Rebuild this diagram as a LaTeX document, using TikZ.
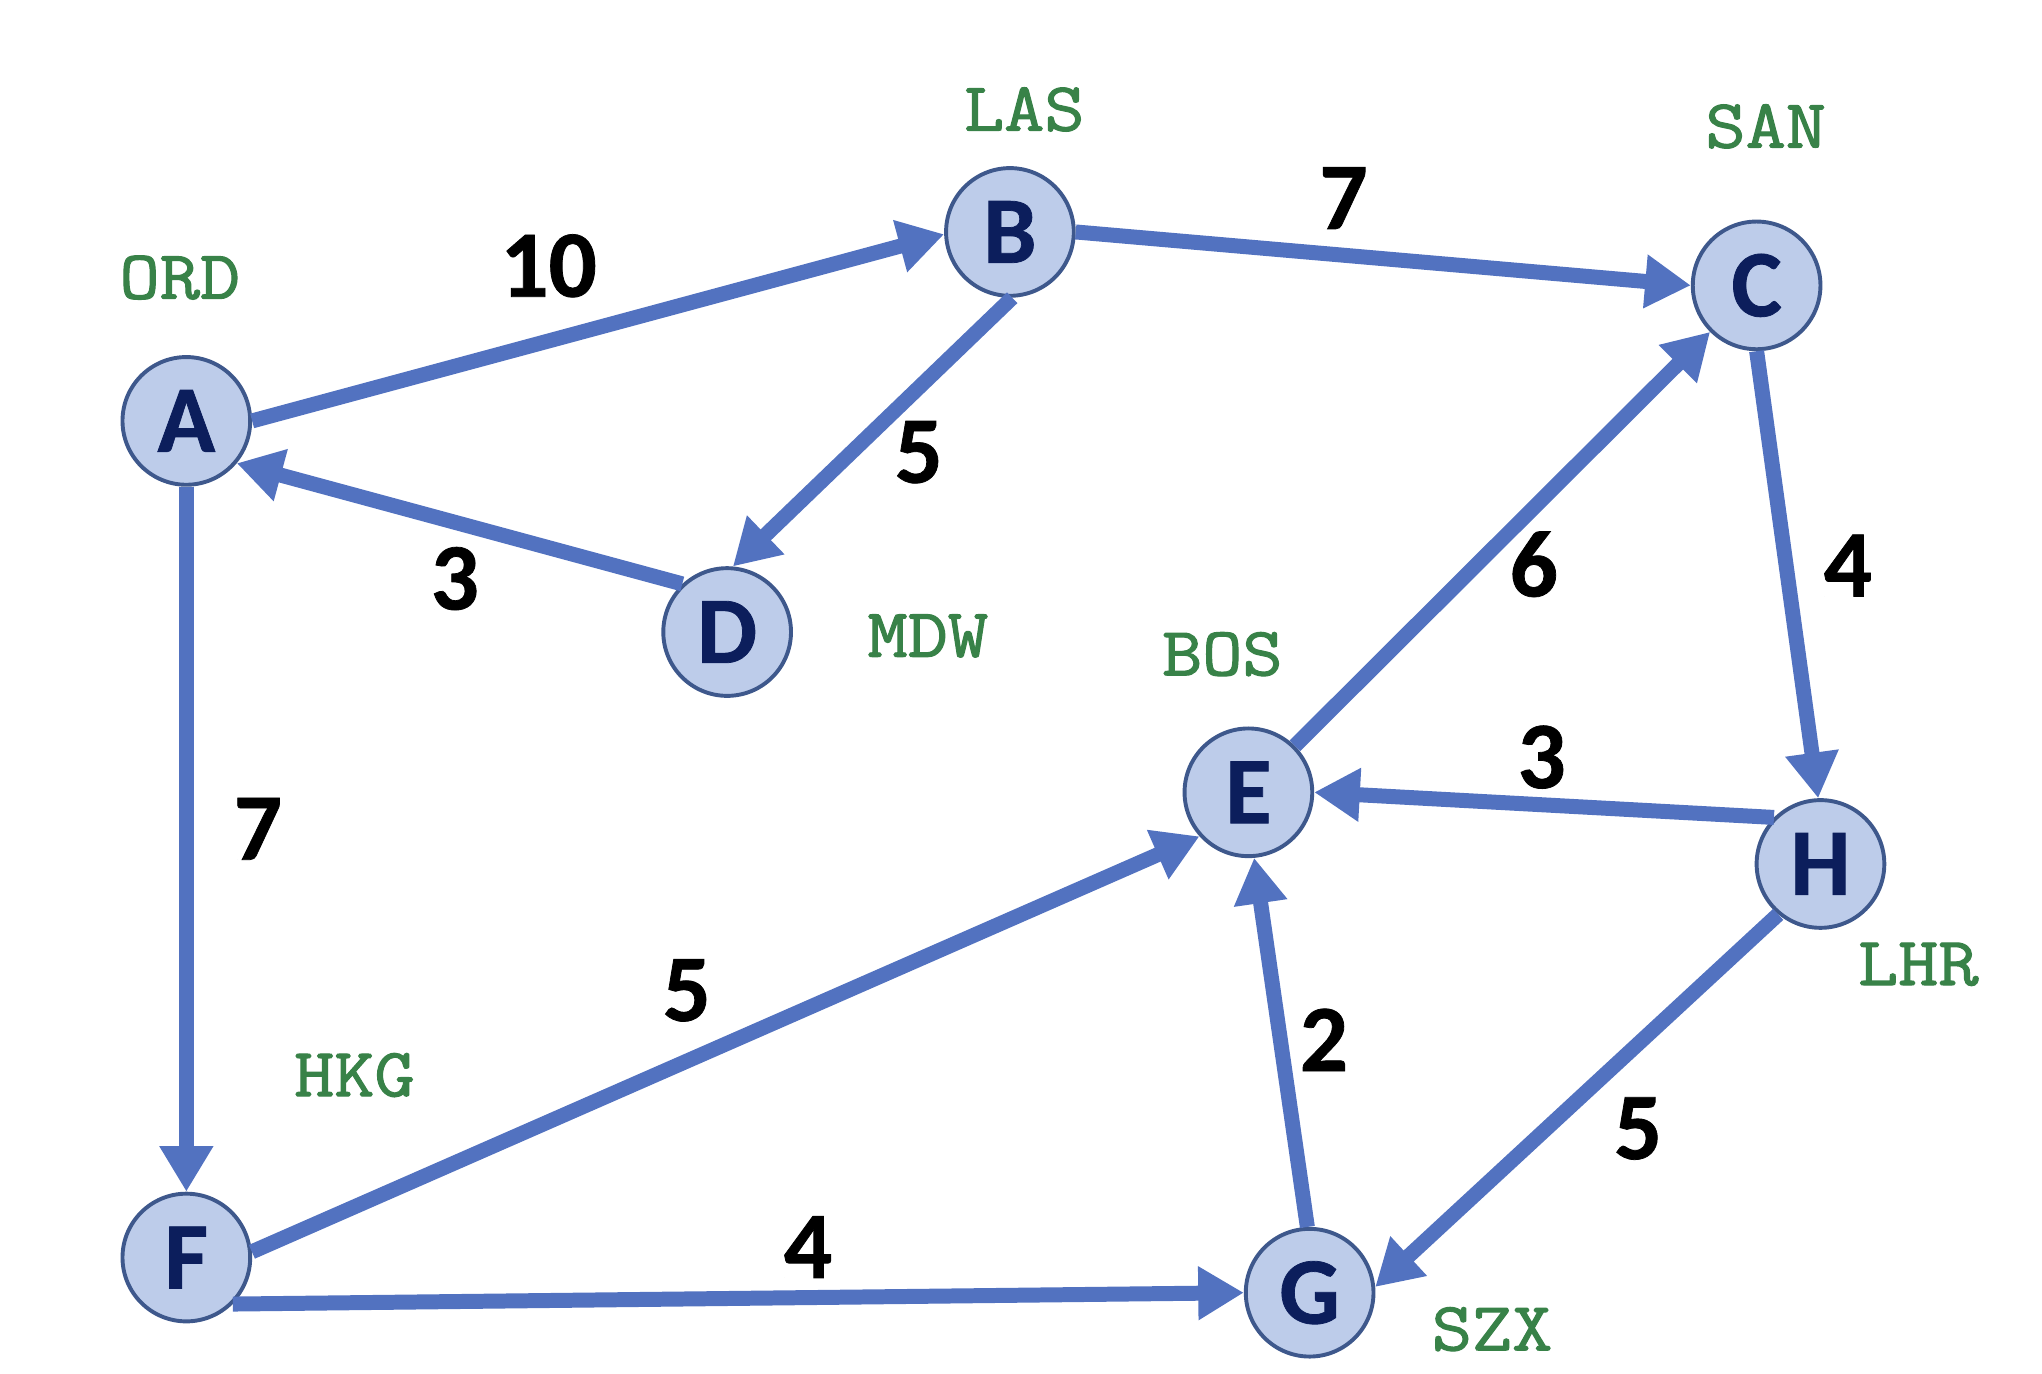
\documentclass[tikz,border=0pt]{standalone}
\usepackage{fontspec}
\setmainfont{Carlito}[BoldFeatures={FakeBold=0.8}]
\newfontfamily\codefont[FakeBold=1.6,FakeStretch=1.13]{Latin Modern Mono}
\usetikzlibrary{arrows.meta}
\definecolor{edgeblue}{RGB}{82,114,192}
\definecolor{nodefill}{RGB}{189,204,234}
\definecolor{nodedraw}{RGB}{62,88,140}
\definecolor{letterblue}{RGB}{12,30,92}
\definecolor{codegreen}{RGB}{56,130,72}
\tikzset{
  vtx/.style={circle, draw=nodedraw, fill=nodefill, line width=3pt, minimum size=98pt, inner sep=0pt,
    text=letterblue, font=\fontsize{73}{80}\selectfont\bfseries},
  wlab/.style={font=\fontsize{73}{80}\selectfont\bfseries, text=black, inner sep=0pt},
  code/.style={font=\fontsize{53}{60}\selectfont\codefont, text=codegreen, inner sep=0pt},
  edge/.style={draw=edgeblue, line width=11.5pt, -{Triangle[length=35pt,width=39pt]}}
}
\begin{document}
\begin{tikzpicture}[x=1pt,y=-1pt]
\useasboundingbox (0,0) rectangle (1567,1054);
\node[vtx] (A) at (143,323) {A};
\node[vtx] (B) at (775,178) {B};
\node[vtx] (C) at (1348,219) {C};
\node[vtx] (D) at (558,485) {D};
\node[vtx] (E) at (958,608) {E};
\node[vtx] (F) at (143,965) {F};
\node[vtx] (G) at (1005,992) {G};
\node[vtx] (H) at (1397,663) {H};

\node[code] (ord) at (138,213) {ORD};
\node[code] (las) at (786,84) {LAS};
\node[code] (san) at (1355,97) {SAN};
\node[code] (mdw) at (712,488) {MDW};
\node[code] (bos) at (938,502) {BOS};
\node[code] (lhr) at (1472,740) {LHR};
\node[code] (hkg) at (272,825) {HKG};
\node[code] (szx) at (1145,1020) {SZX};

\draw[edge] (A.0) -- (B.182);
\draw[edge] (B.0) -- (C.180);
\draw[edge] (B.-88) -- (D.85);
\draw[edge] (D.133) -- (A.-40);
\draw[edge] (A.-90) -- (F.90);
\draw[edge] (E.45) -- (C.225);
\draw[edge] (C.-90) -- (H.92);
\draw[edge] (H.135) -- (E.0);
\draw[edge] (F.5) -- (E.222);
\draw[edge] (F.-45) -- (G.180);
\draw[edge] (G.92) -- (E.-85);
\draw[edge] (H.-130) -- (G.5);

\node[wlab] (w1) at (421,204) {10};
\node[wlab] (w2) at (1031,152) {7};
\node[wlab] (w3) at (705,347) {5};
\node[wlab] (w4) at (349,444) {3};
\node[wlab] (w5) at (198,636) {7};
\node[wlab] (w6) at (1177,433) {6};
\node[wlab] (w7) at (1418,434) {4};
\node[wlab] (w8) at (1183,581) {3};
\node[wlab] (w9) at (527,760) {5};
\node[wlab] (w10) at (1016,798) {2};
\node[wlab] (w11) at (1257,866) {5};
\node[wlab] (w12) at (620,957) {4};
\end{tikzpicture}
\end{document}
